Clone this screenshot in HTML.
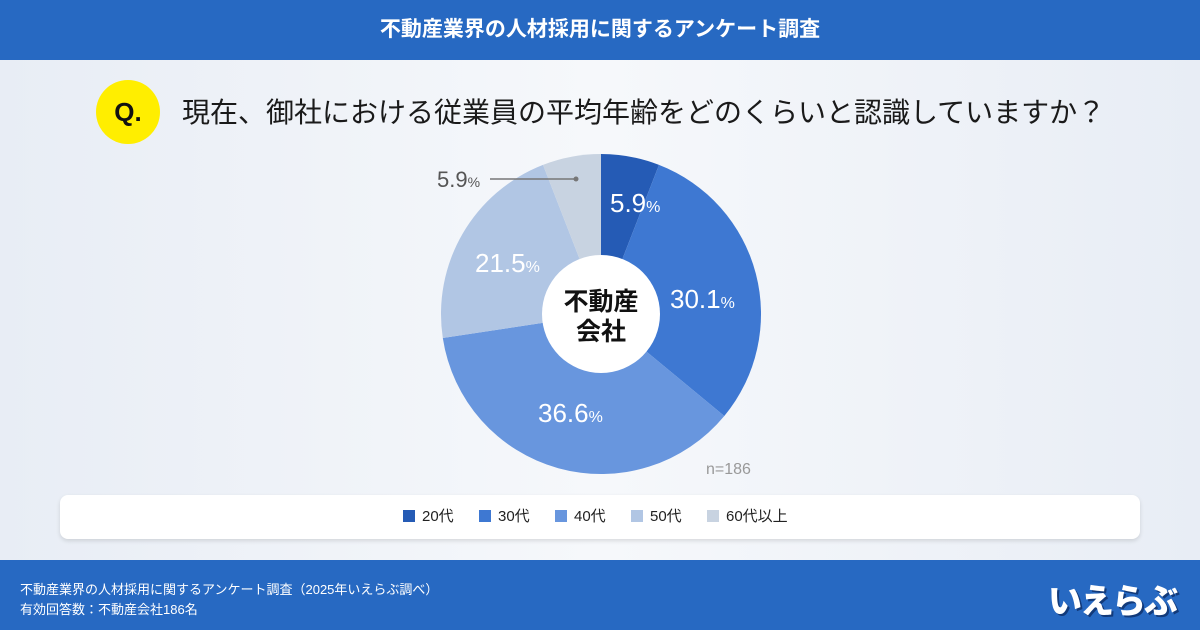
<!DOCTYPE html>
<html><head><meta charset="utf-8"><style>
body{margin:0;width:1200px;height:630px;overflow:hidden;font-family:"Liberation Sans","Noto Sans CJK JP",sans-serif;}
.bg{position:absolute;left:0;top:0;width:1200px;height:630px;background:linear-gradient(90deg,#e8edf5 0%,#f6f8fb 50%,#e8edf5 100%);}
.hdr{position:absolute;left:0;top:0;width:1200px;height:60px;background:#2769c2;color:#fff;font-size:21px;font-weight:bold;text-align:center;line-height:60px;}
.ftr{position:absolute;left:0;top:560px;width:1200px;height:70px;background:#2769c2;color:#fff;font-size:13px;}
.q{position:absolute;left:96px;top:80px;width:64px;height:64px;border-radius:50%;background:#ffee00;font-size:26px;font-weight:bold;color:#111;text-align:center;line-height:64px;}
.qt{position:absolute;left:182px;top:91px;font-size:28px;color:#1a1a1a;white-space:nowrap;}
.leg{position:absolute;left:60px;top:495px;width:1080px;height:44px;background:#fff;border-radius:8px;box-shadow:0 2px 4px rgba(0,0,0,.12);}
.li{position:absolute;top:13px;font-size:15px;color:#222;line-height:18px;}
.li i{display:inline-block;width:12px;height:12px;margin-right:7px;vertical-align:-1px;}
</style></head><body>
<div class="bg"></div>
<div class="hdr">不動産業界の人材採用に関するアンケート調査</div>
<div class="q">Q.</div>
<div class="qt">現在、御社における従業員の平均年齢をどのくらいと認識していますか？</div>
<svg style="position:absolute;left:0;top:0" width="1200" height="630">
<path d="M601,314 L601,154 A160,160 0 0 1 659,164.9Z" fill="#255bb5"/>
<path d="M601,314 L659,164.9 A160,160 0 0 1 724.3,416Z" fill="#3e78d2"/>
<path d="M601,314 L724.3,416 A160,160 0 0 1 442.8,338Z" fill="#6896de"/>
<path d="M601,314 L442.8,338 A160,160 0 0 1 543,164.9Z" fill="#b1c6e4"/>
<path d="M601,314 L543,164.9 A160,160 0 0 1 601,154Z" fill="#c8d3e1"/>
<circle cx="601" cy="314" r="59" fill="#fff"/>
<text x="601" y="310" font-size="25" font-weight="bold" text-anchor="middle" fill="#111">不動産</text>
<text x="601" y="340" font-size="25" font-weight="bold" text-anchor="middle" fill="#111">会社</text>
<g fill="#fff" font-size="26">
<text x="610" y="212">5.9<tspan font-size="16">%</tspan></text>
<text x="670" y="308">30.1<tspan font-size="16">%</tspan></text>
<text x="538" y="422">36.6<tspan font-size="16">%</tspan></text>
<text x="475" y="272">21.5<tspan font-size="16">%</tspan></text>
</g>
<text x="437" y="187" font-size="22" fill="#555">5.9<tspan font-size="14">%</tspan></text>
<line x1="490" y1="179" x2="576" y2="179" stroke="#777" stroke-width="1.5"/>
<circle cx="576" cy="179" r="2.5" fill="#777"/>
<text x="706" y="474" font-size="16" fill="#999">n=186</text>
</svg>
<div class="leg">
<div class="li" style="left:343px"><i style="background:#255bb5"></i>20代</div>
<div class="li" style="left:419px"><i style="background:#3e78d2"></i>30代</div>
<div class="li" style="left:495px"><i style="background:#6896de"></i>40代</div>
<div class="li" style="left:571px"><i style="background:#b1c6e4"></i>50代</div>
<div class="li" style="left:647px"><i style="background:#c8d3e1"></i>60代以上</div>
</div>
<div class="ftr">
<div style="position:absolute;left:20px;top:19px">不動産業界の人材採用に関するアンケート調査（2025年いえらぶ調べ）</div>
<div style="position:absolute;left:20px;top:39px">有効回答数：不動産会社186名</div>
<div style="position:absolute;left:1048px;top:14px;font-size:34px;font-weight:900;color:#fff;letter-spacing:-2px;text-shadow:2px 2px 0 #123a7a">いえらぶ</div>
</div>
</body></html>
